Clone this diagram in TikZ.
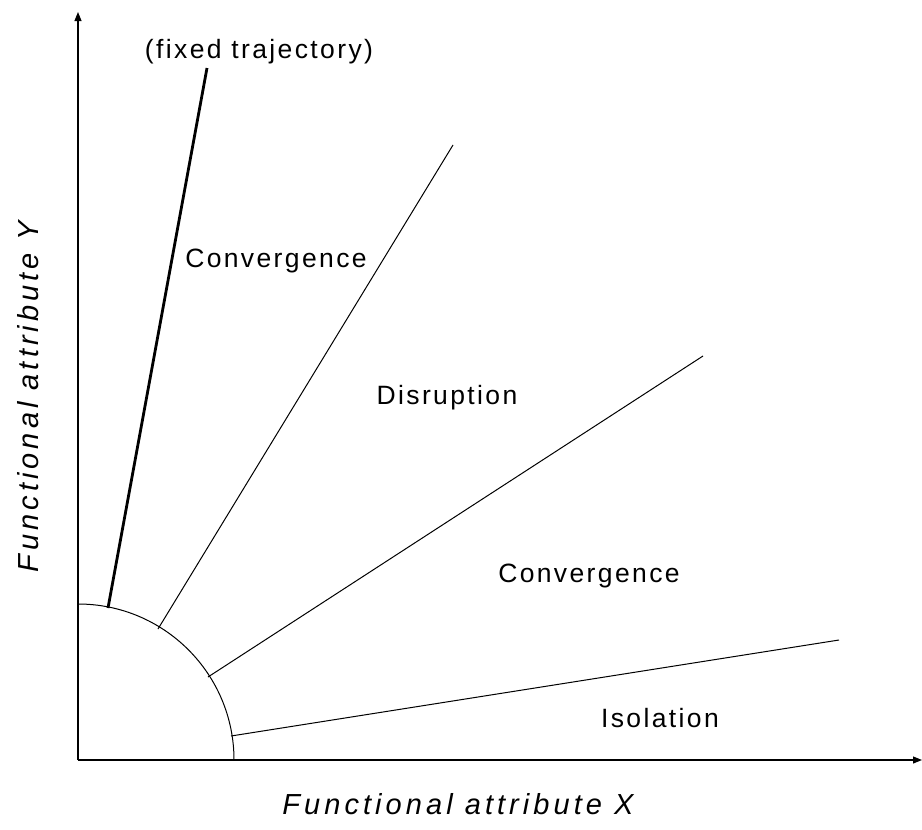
\documentclass[tikz,border=0pt]{standalone}
\usepackage{fontspec}
\setmainfont{Liberation Sans}[LetterSpace=9]
\newfontfamily\labelfont{Liberation Sans}[LetterSpace=14]
\usetikzlibrary{arrows.meta}
\begin{document}
\begin{tikzpicture}[x=1pt,y=-1pt,
  axis/.style={line width=1.1pt,-{Triangle[length=9pt,width=7pt]}},
  ray/.style={line width=1pt},
  fixedray/.style={line width=2.8pt},
  region/.style={anchor=base,inner sep=0pt,font=\fontsize{26.5}{31}\selectfont},
  axislabel/.style={inner sep=0pt,font=\labelfont\itshape\fontsize{29}{34}\selectfont}]
\useasboundingbox (0,0) rectangle (922,830);
% origin and axes
\coordinate (O) at (78,760);
\coordinate (Ytop) at (78,12);
\coordinate (Xend) at (922,760);
\draw[axis] (O) -- (Ytop);
\draw[axis] (O) -- (Xend);
% quarter circle round the origin
\draw[line width=1pt] (78,604) arc[start angle=-90,end angle=0,radius=156];
% rays leaving the circle
\coordinate (a1) at (108,608); \coordinate (b1) at (207,68);
\coordinate (a2) at (158,629); \coordinate (b2) at (453,145);
\coordinate (a3) at (208,677); \coordinate (b3) at (703,356);
\coordinate (a4) at (231,736); \coordinate (b4) at (839,640);
\draw[fixedray] (a1) -- (b1);
\draw[ray] (a2) -- (b2);
\draw[ray] (a3) -- (b3);
\draw[ray] (a4) -- (b4);
% region labels
\node[region] (fixed) at (259,58) {(fixed trajectory)};
\node[region] (conv1) at (276,267) {Convergence};
\node[region] (disr) at (447,404) {Disruption};
\node[region] (conv2) at (589,582) {Convergence};
\node[region] (iso) at (660,727) {Isolation};
% axis labels
\node[axislabel] (xlab) at (458,804) {Functional attribute X};
\node[axislabel,rotate=90] (ylab) at (28,397) {Functional attribute Y};
\end{tikzpicture}
\end{document}
